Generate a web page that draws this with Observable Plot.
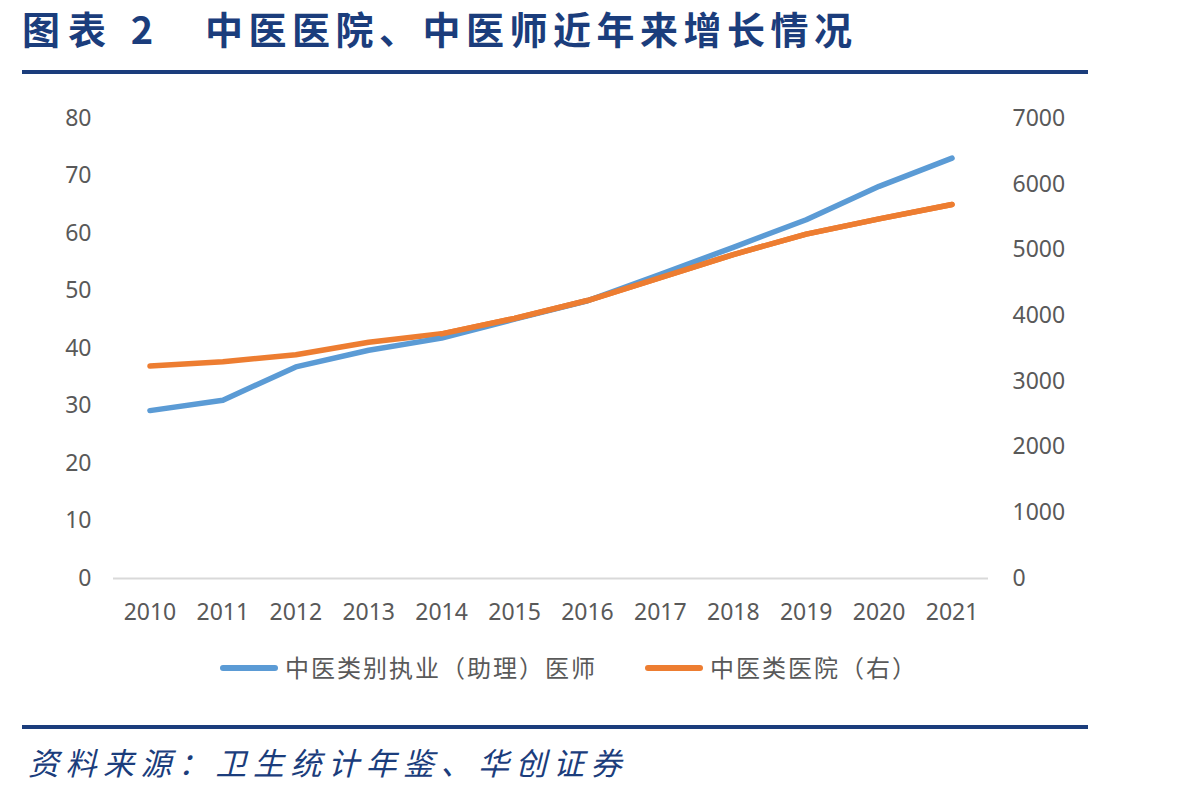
<!DOCTYPE html>
<html><head><meta charset="utf-8">
<script src="https://cdn.jsdelivr.net/npm/d3@7"></script>
<script src="https://cdn.jsdelivr.net/npm/@observablehq/plot@0.6"></script>
<style>
html,body{margin:0;padding:0;background:#fff;}
body{width:1198px;height:796px;position:relative;overflow:hidden;font-family:"Noto Sans CJK SC","Noto Sans",sans-serif;}
.abs{position:absolute;white-space:nowrap;}
.title{color:#1B3D7C;font-weight:700;font-size:38px;letter-spacing:5.5px;line-height:1;top:9px;}
.rule{position:absolute;left:22px;width:1066px;height:4px;background:#1B3D7C;}
.leg{font-size:24px;color:#595959;letter-spacing:2px;line-height:1;top:655px;}
.sw{position:absolute;height:6px;border-radius:3px;top:665px;width:58px;}
.foot{color:#1B3D7C;font-style:italic;font-size:31px;letter-spacing:6.5px;line-height:1;top:746px;left:28px;}
#chart{position:absolute;left:0;top:90px;}
</style></head>
<body>
<div class="abs title" style="left:22px;letter-spacing:8px;">图表 2</div>
<div class="abs title" style="left:205px;">中医医院、中医师近年来增长情况</div>
<div class="rule" style="top:70px;"></div>
<div id="chart"></div>
<div class="sw" style="left:220px;background:#5B9BD5;"></div>
<div class="abs leg" style="left:285px;">中医类别执业（助理）医师</div>
<div class="sw" style="left:645px;background:#ED7D31;"></div>
<div class="abs leg" style="left:710px;">中医类医院（右）</div>
<div class="rule" style="top:725px;"></div>
<div class="abs foot">资料来源：卫生统计年鉴、华创证券</div>
<script>
const years = ["2010","2011","2012","2013","2014","2015","2016","2017","2018","2019","2020","2021"];
const doctors = [29.2, 31.0, 36.8, 39.7, 41.8, 45.1, 48.3, 52.9, 57.6, 62.4, 68.2, 73.1];
const hospitals = [3232, 3300, 3404, 3596, 3723, 3957, 4230, 4580, 4930, 5240, 5473, 5691];
const leftTicks = [0,10,20,30,40,50,60,70,80];
const rightTicks = [0,1000,2000,3000,4000,5000,6000,7000];
const leftMax = 80, rightMax = 7000;
const k = leftMax / rightMax;

const docData = years.map((y,i)=>({year:y, v:doctors[i]}));
const hosData = years.map((y,i)=>({year:y, v:hospitals[i]*k, raw:hospitals[i]}));

const chart = Plot.plot({
  width:1198, height:550,
  marginTop:28, marginBottom:62, marginLeft:113, marginRight:210,
  style:{fontFamily:"'Noto Sans', sans-serif", fontSize:"23px", color:"#595959", background:"#fff"},
  x:{type:"point", domain:years, padding:0.5, round:false},
  y:{domain:[0,leftMax]},
  marks:[
    Plot.ruleY([0],{stroke:"#D9D9D9", strokeWidth:2}),
    Plot.axisX({tickSize:0, tickPadding:25, fill:"#595959", label:null}),
    Plot.axisY({anchor:"left", ticks:leftTicks, tickSize:0, tickPadding:22, fill:"#595959", label:null}),
    Plot.axisY({anchor:"right", ticks:rightTicks.map(t=>t*k), tickFormat:d=>String(Math.round(d/k)), tickSize:0, tickPadding:24, fill:"#595959", label:null}),
    Plot.line(hosData,{x:"year", y:"v", stroke:"#ED7D31", strokeWidth:5.5, strokeLinecap:"round", strokeLinejoin:"round"}),
    Plot.line(docData,{x:"year", y:"v", stroke:"#5B9BD5", strokeWidth:5.5, strokeLinecap:"round", strokeLinejoin:"round"}),
    Plot.line(hosData.slice(4),{x:"year", y:"v", stroke:"#ED7D31", strokeWidth:5.5, strokeLinecap:"round", strokeLinejoin:"round"})
  ]
});
document.getElementById("chart").appendChild(chart);
</script>
</body></html>
